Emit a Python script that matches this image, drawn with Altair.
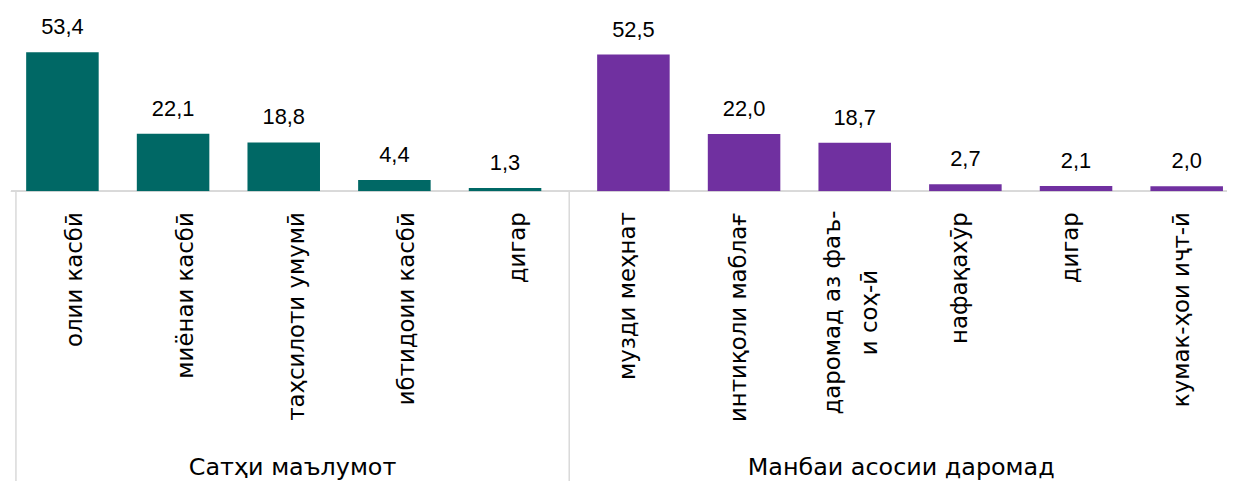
import altair as alt
import pandas as pd

group_names = ["Сатҳи маълумот", "Манбаи асосии даромад"]
edu_labels = ["олии касбӣ", "миёнаи касбӣ", "таҳсилоти умумӣ", "ибтидоии касбӣ", "дигар"]
edu_values = [53.4, 22.1, 18.8, 4.4, 1.3]
inc_labels = ["музди меҳнат", "интиқоли маблағ", "даромад аз фаъ-\nи соҳ-ӣ",
              "нафақахӯр", "дигар", "кумак-ҳои иҷт-ӣ"]
inc_values = [52.5, 22.0, 18.7, 2.7, 2.1, 2.0]
series_colors = ["#006865", "#7030A0"]

NUM_FONT = "Liberation Sans"
TXT_FONT = "DejaVu Sans"

PLOT_W = 1224          # visible plot width
STEP = 112.3           # width of one category band (the last band runs past the edge)
SHIFT = 0.08           # clustered-series shift inside a band, in band units

rows = []
k = 0
g_rows = []
for gi, (labels, values) in enumerate([(edu_labels, edu_values), (inc_labels, inc_values)]):
    start = k
    for i, (lab, v) in enumerate(zip(labels, values)):
        rows.append({
            "idx": k,
            "label": lab,
            "value": v,
            "series": group_names[gi],
            "side": -1 if gi == 0 else 1,
            "txt": f"{v:.1f}".replace(".", ","),
            "multi": "\n" in lab,
            "first": i == 0,
        })
        k += 1
    g_rows.append({"name": group_names[gi], "gc": start + len(labels) / 2})
df = pd.DataFrame(rows)
gdf = pd.DataFrame(g_rows)

xs = alt.Scale(domain=[0, PLOT_W / STEP], nice=False, zero=False)
ysc = alt.Scale(domain=[0, 69.8])

base = alt.Chart(df).transform_calculate(
    cx="datum.idx + 0.5",
    bx=f"datum.idx + 0.5 + datum.side * {SHIFT}",
)

bars = base.mark_bar(width=73, clip=True, orient="vertical").encode(
    x=alt.X("bx:Q", scale=xs, axis=None),
    y=alt.Y("value:Q", scale=ysc, axis=None, stack=None),
    color=alt.Color("series:N", scale=alt.Scale(domain=group_names, range=series_colors), legend=None),
)

vals = base.mark_text(font=NUM_FONT, fontSize=22, baseline="alphabetic", dy=-18, color="#000000").encode(
    x=alt.X("bx:Q", scale=xs, axis=None),
    y=alt.Y("value:Q", scale=ysc, axis=None),
    text="txt:N",
)

cats = base.transform_filter(alt.datum.multi == False).mark_text(
    font=TXT_FONT, fontSize=23, angle=270, align="right", baseline="middle", dy=4, color="#000000"
).encode(x=alt.X("cx:Q", scale=xs, axis=None), y=alt.value(204), text="label:N")

multi = base.transform_filter(alt.datum.multi == True).mark_text(
    font=TXT_FONT, fontSize=23, angle=270, align="center", baseline="middle",
    lineBreak="\n", lineHeight=37, dy=-13, color="#000000"
).encode(x=alt.X("cx:Q", scale=xs, axis=None), y=alt.value(305), text="label:N")

groups = alt.Chart(gdf).mark_text(
    font=TXT_FONT, fontSize=24, baseline="alphabetic", color="#000000"
).encode(x=alt.X("gc:Q", scale=xs, axis=None), y=alt.value(469), text="name:N")

seps = base.transform_filter(alt.datum.first == True).mark_rule(
    color="#d9d9d9", strokeWidth=1.5
).encode(x=alt.X("idx:Q", scale=xs, axis=None), y=alt.value(183), y2=alt.value(480))

baseline = base.mark_rule(color="#d9d9d9", strokeWidth=1.5).encode(
    x=alt.value(0), x2=alt.value(PLOT_W), y=alt.value(183)
)

chart = alt.layer(baseline, seps, bars, vals, cats, multi, groups).properties(
    width=PLOT_W, height=183,
    autosize=alt.AutoSizeParams(type="none"),
    padding={"left": 3, "top": 0, "right": 0, "bottom": 290},
).configure_view(stroke=None)

chart.save("out.html", embed_options={"renderer": "svg", "actions": False})
